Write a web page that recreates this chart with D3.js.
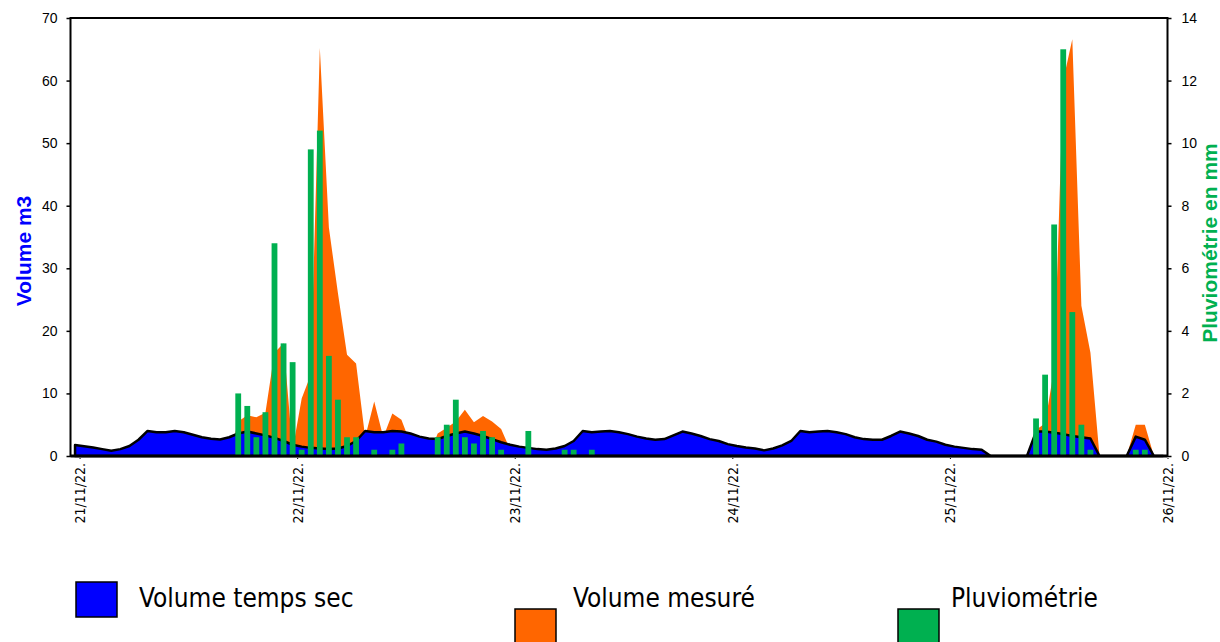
<!DOCTYPE html>
<html>
<head>
<meta charset="utf-8">
<script src="https://cdn.jsdelivr.net/npm/d3@7"></script>
<style>
  body { margin: 0; background: #fff; }
  svg { display: block; }
</style>
</head>
<body>
<script>
// hourly values, first slot = 20/11/22 23:00
const firstHour = new Date(2022, 10, 20, 23, 0);

// Volume temps sec (m3)
const volSec = [
  1.75, 1.55, 1.35, 1.1, 0.85, 1.1, 1.6, 2.6, 4.0, 3.8, 3.8, 4.0, 3.8, 3.4, 3.0, 2.75, 2.65, 3.0, 3.6, 3.9, 3.6, 3.3, 2.9, 2.4,
  1.8, 1.5, 1.3, 1.2, 1.1, 1.2, 1.6, 2.4, 4.0, 3.8, 3.8, 4.0, 3.9, 3.6, 3.1, 2.8, 2.7, 3.2, 3.6, 3.9, 3.6, 3.2, 2.7, 2.2,
  1.8, 1.5, 1.3, 1.1, 1.0, 1.2, 1.6, 2.4, 4.0, 3.8, 3.9, 4.0, 3.8, 3.5, 3.1, 2.8, 2.6, 2.7, 3.3, 3.9, 3.6, 3.2, 2.7, 2.4,
  1.9, 1.6, 1.35, 1.2, 0.9, 1.2, 1.7, 2.4, 4.0, 3.8, 3.9, 4.0, 3.8, 3.5, 3.0, 2.7, 2.6, 2.6, 3.2, 3.9, 3.6, 3.2, 2.6, 2.3,
  1.8, 1.5, 1.3, 1.1, 1.0, 0, 0, 0, 0, 0, 3.9, 3.9, 3.7, 3.5, 3.2, 3.0, 2.8, 0, 0, 0, 0, 3.1, 2.6, 0,
  0
];

// Volume mesuré (m3)
const volMes = [
  0, 0, 0, 0, 0, 0, 0, 0, 0, 0, 0, 0, 0, 0, 0, 0, 0, 0, 5.5, 6.5, 6.2, 6.9, 16.5, 18.0,
  1.0, 9.2, 13.0, 65.2, 36.5, 26.0, 16.2, 14.8, 3.0, 8.7, 3.0, 6.8, 5.8, 2.0, 0, 0, 3.6, 4.5, 5.5, 7.4, 5.4, 6.4, 5.5, 4.3,
  1.0, 0, 0, 0, 0, 0, 0, 0, 0, 0, 0, 0, 0, 0, 0, 0, 0, 0, 0, 0, 0, 0, 0, 0,
  0, 0, 0, 0, 0, 0, 0, 0, 0, 0, 0, 0, 0, 0, 0, 0, 0, 0, 0, 0, 0, 0, 0, 0,
  0, 0, 0, 0, 0, 0, 0, 0, 0, 0, 4.2, 5.2, 14.0, 60.0, 66.6, 24.0, 16.5, 0, 0, 0, 0, 5.0, 5.0, 0,
  0
];

// Pluviométrie (mm)
const pluvio = [
  0, 0, 0, 0, 0, 0, 0, 0, 0, 0, 0, 0, 0, 0, 0, 0, 0, 0, 2.0, 1.6, 0.6, 1.4, 6.8, 3.6,
  3.0, 0.2, 9.8, 10.4, 3.2, 1.8, 0.6, 0.6, 0, 0.2, 0, 0.2, 0.4, 0, 0, 0, 0.6, 1.0, 1.8, 0.6, 0.4, 0.8, 0.6, 0.2,
  0, 0, 0.8, 0, 0, 0, 0.2, 0.2, 0, 0.2, 0, 0, 0, 0, 0, 0, 0, 0, 0, 0, 0, 0, 0, 0,
  0, 0, 0, 0, 0, 0, 0, 0, 0, 0, 0, 0, 0, 0, 0, 0, 0, 0, 0, 0, 0, 0, 0, 0,
  0, 0, 0, 0, 0, 0, 0, 0, 0, 0, 1.2, 2.6, 7.4, 13.0, 4.6, 1.0, 0.2, 0, 0, 0, 0, 0.2, 0.2, 0,
  0
];

const dayTicks = ["2022-11-21", "2022-11-22", "2022-11-23", "2022-11-24", "2022-11-25", "2022-11-26"];
const volTicks = [0, 10, 20, 30, 40, 50, 60, 70];
const pluieTicks = [0, 2, 4, 6, 8, 10, 12, 14];
const legendLabels = ["Volume temps sec", "Volume mesuré", "Pluviométrie"];

const width = 1220, height = 642;
const plot = { left: 70.5, right: 1167.5, top: 18, bottom: 456 };

const cBlue = "#0000ff", cOrange = "#ff6600", cGreen = "#00b050";

const svg = d3.select("body").append("svg")
  .attr("width", width)
  .attr("height", height)
  .style("font-family", "'Liberation Sans', Arial, sans-serif");

// each value sits in the middle of its hour slot
const slot = i => d3.timeMinute.offset(firstHour, i * 60 + 30);

const x = d3.scaleTime()
  .domain([firstHour, d3.timeHour.offset(firstHour, volSec.length)])
  .range([plot.left, plot.right]);
const yVol = d3.scaleLinear().domain([0, 70]).range([plot.bottom, plot.top]);
const yPluie = d3.scaleLinear().domain([0, 14]).range([plot.bottom, plot.top]);

const area = d3.area()
  .x((d, i) => x(slot(i)))
  .y0(yVol(0))
  .y1(d => yVol(d));

// measured volume behind dry weather volume
svg.append("path")
  .datum(volMes)
  .attr("d", area)
  .attr("fill", cOrange);

svg.append("path")
  .datum(volSec)
  .attr("d", area)
  .attr("fill", cBlue)
  .attr("stroke", "#000")
  .attr("stroke-width", 2.5)
  .attr("stroke-linejoin", "round");

const barW = (x(slot(1)) - x(slot(0))) * 0.64;

svg.append("g")
  .selectAll("rect")
  .data(pluvio.map((v, i) => ({ v, i })).filter(d => d.v > 0))
  .join("rect")
  .attr("x", d => x(slot(d.i)) - barW / 2)
  .attr("y", d => yPluie(d.v))
  .attr("width", barW)
  .attr("height", d => yPluie(0) - yPluie(d.v))
  .attr("fill", cGreen);

// frame
svg.append("rect")
  .attr("x", plot.left)
  .attr("y", plot.top)
  .attr("width", plot.right - plot.left)
  .attr("height", plot.bottom - plot.top)
  .attr("fill", "none")
  .attr("stroke", "#000")
  .attr("stroke-width", 2);
svg.append("line")
  .attr("x1", plot.left).attr("x2", plot.right)
  .attr("y1", plot.bottom).attr("y2", plot.bottom)
  .attr("stroke", "#000")
  .attr("stroke-width", 3);

// axes
const axL = svg.append("g")
  .attr("transform", `translate(${plot.left},0)`)
  .call(d3.axisLeft(yVol).tickValues(volTicks).tickSize(4).tickPadding(9).tickSizeOuter(0));

const axR = svg.append("g")
  .attr("transform", `translate(${plot.right},0)`)
  .call(d3.axisRight(yPluie).tickValues(pluieTicks).tickSize(4).tickPadding(10).tickSizeOuter(0));

[axL, axR].forEach(ax => {
  ax.select(".domain").remove();
  ax.selectAll("line").attr("stroke", "#000").attr("stroke-width", 1.5);
  ax.selectAll("text")
    .style("font-family", "'Liberation Sans', Arial, sans-serif")
    .style("font-size", "14px")
    .attr("fill", "#000");
});

const fmtDay = d3.timeFormat("%d/%m/%y.");
const axB = svg.append("g")
  .attr("transform", `translate(0,${plot.bottom})`)
  .call(d3.axisBottom(x)
    .tickValues(dayTicks.map(d => d3.timeParse("%Y-%m-%d")(d)))
    .tickFormat(fmtDay)
    .tickSize(3)
    .tickSizeOuter(0));
axB.select(".domain").remove();
axB.selectAll("line").attr("stroke", "#000").attr("stroke-dasharray", "1,1");
axB.selectAll("text")
  .attr("y", null)
  .attr("dy", "0.35em")
  .attr("x", 0)
  .attr("transform", "translate(0,7) rotate(-90)")
  .style("text-anchor", "end")
  .style("font-family", "'DejaVu Sans Condensed', 'DejaVu Sans', sans-serif")
  .style("font-stretch", "condensed")
  .style("font-size", "14px")
  .attr("fill", "#000");

// axis titles
svg.append("text")
  .attr("transform", `translate(31,251) rotate(-90)`)
  .attr("text-anchor", "middle")
  .style("font-size", "21px")
  .style("font-weight", "bold")
  .attr("fill", cBlue)
  .text("Volume m3");

svg.append("text")
  .attr("transform", `translate(1217,243) rotate(-90)`)
  .attr("text-anchor", "middle")
  .style("font-size", "21px")
  .style("font-weight", "bold")
  .attr("fill", cGreen)
  .text("Pluviométrie en mm");

// legend
const legendPos = [
  { sx: 76, sy: 582, tx: 139, color: cBlue },
  { sx: 515, sy: 609, tx: 573, color: cOrange },
  { sx: 898, sy: 609, tx: 951, color: cGreen }
];

const leg = svg.append("g")
  .selectAll("g")
  .data(legendLabels)
  .join("g");

leg.append("rect")
  .attr("x", (d, i) => legendPos[i].sx)
  .attr("y", (d, i) => legendPos[i].sy)
  .attr("width", 41)
  .attr("height", 35)
  .attr("fill", (d, i) => legendPos[i].color)
  .attr("stroke", "#000")
  .attr("stroke-width", 1.5);

leg.append("text")
  .attr("x", (d, i) => legendPos[i].tx)
  .attr("y", 607)
  .style("font-family", "'DejaVu Sans Condensed', 'DejaVu Sans', sans-serif")
  .style("font-stretch", "condensed")
  .style("font-size", "26px")
  .attr("fill", "#000")
  .text(d => d);
</script>
</body>
</html>
